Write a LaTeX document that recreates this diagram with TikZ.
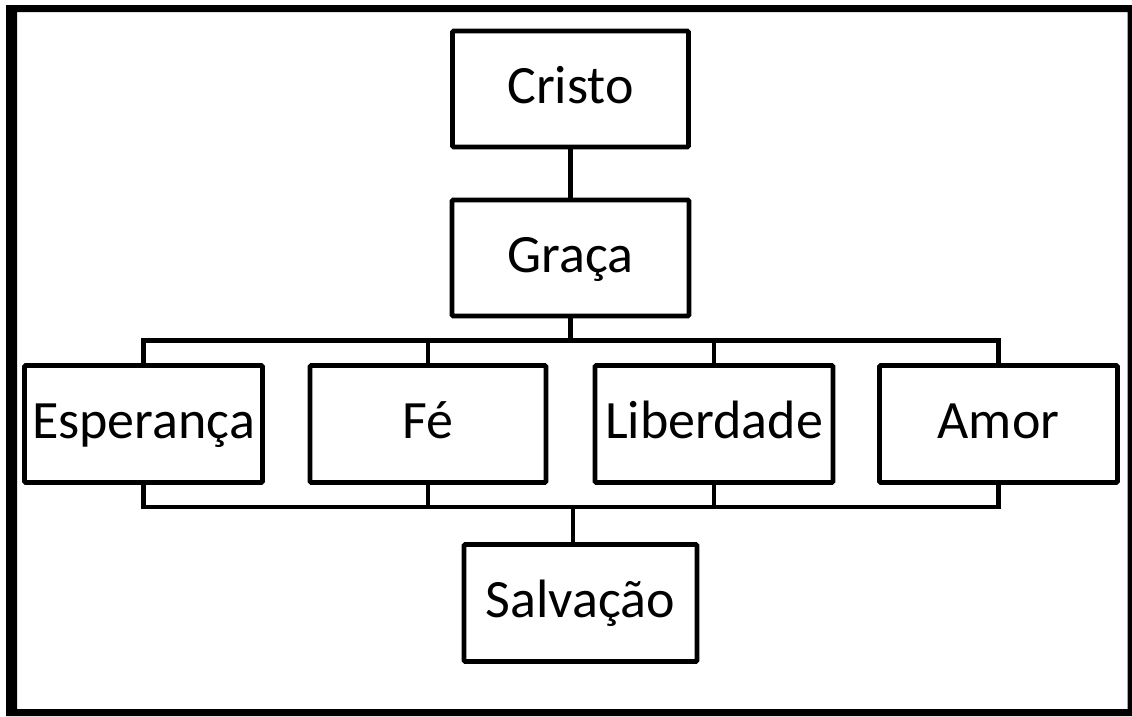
\documentclass[tikz,border=0pt]{standalone}
\usepackage{fontspec}
\setmainfont{Carlito}
\begin{document}
\begin{tikzpicture}[x=1pt,y=-1pt,
  box/.style={draw=black, line width=4.8pt, rounded corners=1.2pt, fill=white,
    minimum height=116pt, inner sep=0pt, text height=37pt, text depth=8pt,
    font=\fontsize{54}{62}\selectfont},
  conn/.style={draw=black, line width=4.8pt}]
\useasboundingbox (0,0) rectangle (1132,716);
\fill[black, even odd rule] (6,5) rectangle (1132,716) (17,12) rectangle (1127.5,709);
\node[box, minimum width=236pt] (cristo) at (570.5,89) {Cristo};
\node[box, minimum width=237pt] (graca) at (570.5,258) {Graça};
\node[box, minimum width=238pt, minimum height=117pt] (esp) at (143.5,424) {Esperança};
\node[box, minimum width=236pt, minimum height=117pt] (fe) at (428,424) {Fé};
\node[box, minimum width=238pt, minimum height=117pt] (lib) at (714,424) {Liberdade};
\node[box, minimum width=238pt, minimum height=117pt] (amor) at (998.5,424) {Amor};
\node[box, minimum width=233pt, minimum height=117pt] (salv) at (580.5,603) {Salvação};
\coordinate (tb) at (570.5,340.5);
\coordinate (bb) at (573,507);
\draw[conn] (cristo.south) -- (graca.north);
\draw[conn] (esp.north) |- (tb) -| (amor.north);
\draw[conn] (graca.south) -- (graca.south |- tb);
\draw[conn] (fe.north) -- (fe.north |- tb);
\draw[conn] (lib.north) -- (lib.north |- tb);
\draw[conn] (esp.south) |- (bb) -| (amor.south);
\draw[conn] (fe.south) -- (fe.south |- bb);
\draw[conn] (lib.south) -- (lib.south |- bb);
\draw[conn] (salv.north -| bb) -- (bb);
\end{tikzpicture}
\end{document}
